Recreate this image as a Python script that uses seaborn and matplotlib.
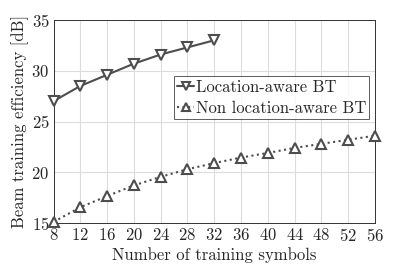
import matplotlib
matplotlib.use("Agg")
import matplotlib.pyplot as plt
import seaborn as sns
import pandas as pd

x_loc = [8, 12, 16, 20, 24, 28, 32]
y_loc = [27.0, 28.5, 29.6, 30.7, 31.6, 32.3, 33.0]
x_non = [8, 12, 16, 20, 24, 28, 32, 36, 40, 44, 48, 52, 56]
y_non = [15.1, 16.55, 17.65, 18.7, 19.55, 20.3, 20.9, 21.45, 21.9, 22.4, 22.8, 23.2, 23.6]
xticks = [8, 12, 16, 20, 24, 28, 32, 36, 40, 44, 48, 52, 56]
yticks = [15, 20, 25, 30, 35]
label_loc = "Location-aware BT"
label_non = "Non location-aware BT"

sns.set_theme(style="whitegrid")
plt.rcParams['font.family'] = ['cmr10', 'DejaVu Serif']
plt.rcParams['axes.formatter.use_mathtext'] = True
plt.rcParams['mathtext.fontset'] = 'cm'

fig = plt.figure(figsize=(4.15, 2.69), dpi=100)
ax = fig.add_axes([53.5/415, 1-223/269, (375-53.5)/415, (223-20)/269])

df_loc = pd.DataFrame({"x": x_loc, "y": y_loc})
df_non = pd.DataFrame({"x": x_non, "y": y_non})
col = "#4d4d4d"
sns.lineplot(data=df_loc, x="x", y="y", ax=ax, color=col, lw=1.5, marker="v",
             markersize=7, markerfacecolor="white", markeredgecolor=col,
             markeredgewidth=1.5, label=label_loc, clip_on=False, zorder=5)
sns.lineplot(data=df_non, x="x", y="y", ax=ax, color=col, lw=1.5, ls=":", marker="^",
             markersize=7, markerfacecolor="white", markeredgecolor=col,
             markeredgewidth=1.5, label=label_non, clip_on=False, zorder=5)

ax.set_xlim(8, 56)
ax.set_ylim(15, 35)
ax.set_xticks(xticks)
ax.set_yticks(yticks)
ax.set_xlabel("Number of training symbols", fontsize=12, labelpad=2)
ax.set_ylabel("Beam training efficiency [dB]", fontsize=12, labelpad=2)
ax.tick_params(axis="both", labelsize=12, direction="in", length=3, pad=3,
               color="#333333")
ax.grid(True, color="#dcdcdc", lw=0.8)
for s in ax.spines.values():
    s.set_color("#333333")
    s.set_linewidth(0.7)
leg = ax.legend(loc="upper right", bbox_to_anchor=(0.993, 0.74), fontsize=12,
                frameon=True, fancybox=False, edgecolor="#333333",
                handlelength=1.0, handletextpad=0.1, borderpad=0.2,
                borderaxespad=0.2, labelspacing=0.35, markerscale=0.85)
leg.get_frame().set_linewidth(0.7)
leg.set_zorder(10)
fig.savefig("out.png", dpi=100)
